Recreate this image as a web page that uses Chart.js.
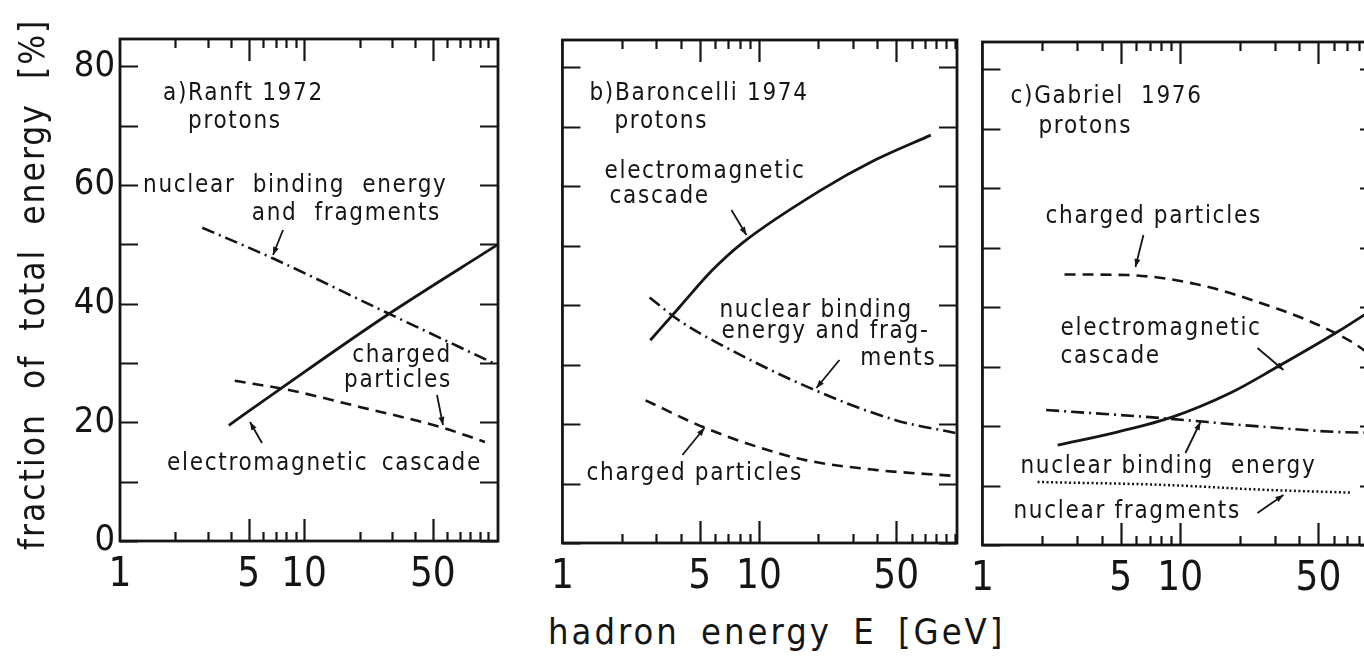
<!DOCTYPE html>
<html>
<head>
<meta charset="utf-8">
<script src="https://cdn.jsdelivr.net/npm/chart.js@4.4.1/dist/chart.umd.min.js"></script>
<style>
  html, body { margin: 0; padding: 0; background: #fff; width: 1364px; height: 659px; overflow: hidden; }
  canvas { position: absolute; top: 0; }
  .title { position: absolute; white-space: pre; font-family: "DejaVu Sans Condensed", "DejaVu Sans", sans-serif; color: #151515; line-height: 1; }
  #xTitle { left: 548px; top: 614px; font-size: 36px; letter-spacing: 3px; word-spacing: 8px; }
  #yTitle { left: 15px; top: 550px; font-size: 35px; letter-spacing: 2px; word-spacing: 12px; transform-origin: 0 0; transform: rotate(-90deg); }
</style>
</head>
<body>
<canvas id="panelA" width="520" height="600" style="left:0px"></canvas>
<canvas id="panelB" width="430" height="600" style="left:540px"></canvas>
<canvas id="panelC" width="420" height="600" style="left:960px"></canvas>
<div id="yTitle" class="title">fraction of total energy [%]</div>
<div id="xTitle" class="title">hadron energy E [GeV]</div>
<script>
// Axis labels shared by the three panels
const xTickLabels = [1, 5, 10, 50];
const yTickLabels = [0, 20, 40, 60, 80];

// a) Ranft 1972, protons  — [E in GeV, fraction in %]
const ranftEm      = [[3.9, 19.5], [7.4, 25.6], [28, 38], [112, 49.9]];
const ranftNuclear = [[2.8, 52.8], [6.8, 47.6], [28, 38.5], [108, 29.9]];
const ranftCharged = [[4.2, 27], [8.4, 25.4], [20, 22.6], [55, 19.2], [96, 16.7]];

// b) Baroncelli 1974, protons
const baroncelliEm      = [[2.8, 34.1], [3.95, 39.7], [5.8, 45.9], [8.2, 50.4], [20.6, 59.3], [39, 64.4], [75, 68.6]];
const baroncelliNuclear = [[2.78, 41.3], [3.9, 37.5], [6.04, 33.8], [18.4, 26], [49.2, 20.7], [100, 18.5]];
const baroncelliCharged = [[2.65, 24], [5.2, 19.5], [10, 16.1], [17.5, 13.9], [39, 12.3], [97, 11.3]];

// c) Gabriel 1976, protons
const gabrielCharged   = [[2.6, 45.5], [5.4, 45.4], [12.3, 43.8], [31.8, 39.6], [50, 37], [75, 34], [100, 31]];
const gabrielEm        = [[2.4, 16.8], [4.8, 19], [9.1, 21.5], [18, 25.6], [30.4, 29.8], [62.8, 35.9], [100, 40.2]];
const gabrielBinding   = [[2.1, 22.7], [7, 21.5], [26, 19.9], [63, 19], [100, 18.9]];
const gabrielFragments = [[1.9, 10.6], [8.4, 10.1], [26, 9.3], [74, 8.8]];

const INK = '#151515';
const TEXT_FONT = '24px "DejaVu Sans Condensed", "DejaVu Sans", sans-serif';
const DASH = { solid: [], dashed: [11, 7], dashDot: [13, 5, 2, 5], dotted: [2, 2.5] };

function series(points, dash, width) {
  return {
    data: points.map(([x, y]) => ({ x, y })),
    borderColor: INK,
    borderWidth: width || 2.6,
    borderDash: DASH[dash],
    pointRadius: 0,
    fill: false,
    cubicInterpolationMode: 'monotone'
  };
}

// Frame with inward tick marks on all four sides
const framePlugin = {
  id: 'frame',
  afterDatasetsDraw(chart) {
    const { ctx, chartArea: a, scales: { x, y } } = chart;
    ctx.save();
    ctx.setLineDash([]);
    ctx.strokeStyle = INK;
    ctx.lineWidth = 2.8;
    ctx.strokeRect(a.left, a.top, a.right - a.left, a.bottom - a.top);
    ctx.lineWidth = 2.2;
    ctx.beginPath();
    for (let v = 0; v <= 80; v += 10) {
      const py = Math.round(y.getPixelForValue(v)) + 0.5;
      ctx.moveTo(a.left, py); ctx.lineTo(a.left + 18, py);
      ctx.moveTo(a.right, py); ctx.lineTo(a.right - 18, py);
    }
    for (const decade of [1, 10]) {
      for (let m = 1; m <= 9; m++) {
        const v = m * decade;
        if (v <= 1 || v >= x.max * 0.98) continue;
        const len = (m === 5 || (m === 1 && decade === 10)) ? 22 : 9;
        const px = Math.round(x.getPixelForValue(v)) + 0.5;
        ctx.moveTo(px, a.bottom); ctx.lineTo(px, a.bottom - len);
        ctx.moveTo(px, a.top); ctx.lineTo(px, a.top + len);
      }
    }
    if (x.max > 100) {
      const px = Math.round(x.getPixelForValue(100)) + 0.5;
      ctx.moveTo(px, a.bottom); ctx.lineTo(px, a.bottom - 9);
      ctx.moveTo(px, a.top); ctx.lineTo(px, a.top + 9);
    }
    ctx.stroke();
    ctx.restore();
  }
};

// Curve labels and pointer arrows, placed relative to the plot frame
const notesPlugin = {
  id: 'notes',
  afterDraw(chart, args, opts) {
    const { ctx, chartArea: a } = chart;
    ctx.save();
    ctx.fillStyle = INK;
    ctx.strokeStyle = INK;
    ctx.font = TEXT_FONT;
    if ('letterSpacing' in ctx) ctx.letterSpacing = '1.7px';
    ctx.textBaseline = 'alphabetic';
    for (const t of opts.texts || []) {
      ctx.textAlign = t.align || 'left';
      ctx.fillText(t.text, a.left + t.dx, a.top + t.dy);
    }
    ctx.lineWidth = 1.8;
    ctx.setLineDash([]);
    for (const ar of opts.arrows || []) {
      const x0 = a.left + ar.from[0], y0 = a.top + ar.from[1];
      const x1 = a.left + ar.to[0], y1 = a.top + ar.to[1];
      ctx.beginPath(); ctx.moveTo(x0, y0); ctx.lineTo(x1, y1); ctx.stroke();
      const ang = Math.atan2(y1 - y0, x1 - x0), L = 8, W = 3;
      ctx.beginPath();
      ctx.moveTo(x1, y1);
      ctx.lineTo(x1 - L * Math.cos(ang) + W * Math.sin(ang), y1 - L * Math.sin(ang) - W * Math.cos(ang));
      ctx.lineTo(x1 - L * Math.cos(ang) - W * Math.sin(ang), y1 - L * Math.sin(ang) + W * Math.cos(ang));
      ctx.closePath(); ctx.fill();
    }
    ctx.restore();
  }
};

function makePanel(id, p) {
  new Chart(document.getElementById(id), {
    type: 'line',
    data: { datasets: p.datasets },
    plugins: [framePlugin, notesPlugin],
    options: {
      responsive: false,
      animation: false,
      devicePixelRatio: 1,
      layout: { padding: p.padding },
      plugins: { legend: { display: false }, tooltip: { enabled: false }, notes: p.notes },
      scales: {
        x: {
          type: 'logarithmic',
          min: 1,
          max: p.xMax,
          afterBuildTicks: s => { s.ticks = xTickLabels.map(v => ({ value: v })); },
          afterFit: s => { s.height = p.xAxisHeight; },
          grid: { display: false, drawTicks: false },
          border: { display: false },
          ticks: {
            autoSkip: false, maxRotation: 0, padding: 11, color: INK,
            font: { family: '"Liberation Sans Narrow", "DejaVu Sans Condensed", sans-serif', size: 40 },
            callback: v => String(v)
          }
        },
        y: {
          type: 'linear',
          min: 0,
          max: 84.6,
          display: p.showY,
          afterBuildTicks: s => { s.ticks = yTickLabels.map(v => ({ value: v })); },
          afterFit: s => { if (p.showY) s.width = p.padding.yWidth; },
          grid: { display: false, drawTicks: false },
          border: { display: false },
          ticks: {
            padding: 5, color: INK,
            font: { family: '"Liberation Sans Narrow", "DejaVu Sans Condensed", sans-serif', size: 36 },
            callback: v => String(v)
          }
        }
      }
    }
  });
}

makePanel('panelA', {
  xMax: 113, xAxisHeight: 59, showY: true,
  padding: { left: 0, right: 22, top: 39, bottom: 0, yWidth: 120 },
  datasets: [
    series(ranftEm, 'solid', 2.8),
    series(ranftNuclear, 'dashDot'),
    series(ranftCharged, 'dashed')
  ],
  notes: {
    texts: [
      { text: 'a)Ranft 1972', dx: 43, dy: 61 },
      { text: 'protons', dx: 68, dy: 89 },
      { text: 'nuclear  binding  energy', dx: 23, dy: 153 },
      { text: 'and  fragments', dx: 321, dy: 181, align: 'right' },
      { text: 'charged', dx: 332, dy: 323, align: 'right' },
      { text: 'particles', dx: 332, dy: 348, align: 'right' },
      { text: 'electromagnetic', dx: 47, dy: 431 },
      { text: 'cascade', dx: 362, dy: 431, align: 'right' }
    ],
    arrows: [
      { from: [163, 191], to: [153, 216] },
      { from: [317, 356], to: [323, 386] },
      { from: [142, 404], to: [130, 383] }
    ]
  }
});

makePanel('panelB', {
  xMax: 102, xAxisHeight: 57, showY: false,
  padding: { left: 13, right: 13, top: 40, bottom: 0 },
  datasets: [
    series(baroncelliEm, 'solid', 2.8),
    series(baroncelliNuclear, 'dashDot'),
    series(baroncelliCharged, 'dashed')
  ],
  notes: {
    texts: [
      { text: 'b)Baroncelli 1974', dx: 27, dy: 60 },
      { text: 'protons', dx: 52, dy: 88 },
      { text: 'electromagnetic', dx: 42, dy: 138 },
      { text: 'cascade', dx: 47, dy: 163 },
      { text: 'nuclear binding', dx: 157, dy: 277 },
      { text: 'energy and frag-', dx: 159, dy: 298 },
      { text: 'ments', dx: 374, dy: 325, align: 'right' },
      { text: 'charged particles', dx: 24, dy: 440 }
    ],
    arrows: [
      { from: [169, 170], to: [184, 195] },
      { from: [277, 320], to: [254, 348] },
      { from: [120, 415], to: [142, 388] }
    ]
  }
});

makePanel('panelC', {
  xMax: 100, xAxisHeight: 55, showY: false,
  padding: { left: 12, right: 2, top: 42, bottom: 0 },
  datasets: [
    series(gabrielCharged, 'dashed'),
    series(gabrielEm, 'solid', 2.8),
    series(gabrielBinding, 'dashDot'),
    series(gabrielFragments, 'dotted', 2.5)
  ],
  notes: {
    texts: [
      { text: 'c)Gabriel  1976', dx: 28, dy: 61 },
      { text: 'protons', dx: 56, dy: 91 },
      { text: 'charged particles', dx: 63, dy: 181 },
      { text: 'electromagnetic', dx: 78, dy: 293 },
      { text: 'cascade', dx: 78, dy: 321 },
      { text: 'nuclear binding  energy', dx: 38, dy: 431 },
      { text: 'nuclear fragments', dx: 31, dy: 476 }
    ],
    arrows: [
      { from: [161, 193], to: [153, 225] },
      { from: [275, 306], to: [301, 328] },
      { from: [203, 411], to: [218, 380] },
      { from: [275, 471], to: [301, 453] }
    ]
  }
});
</script>
</body>
</html>
